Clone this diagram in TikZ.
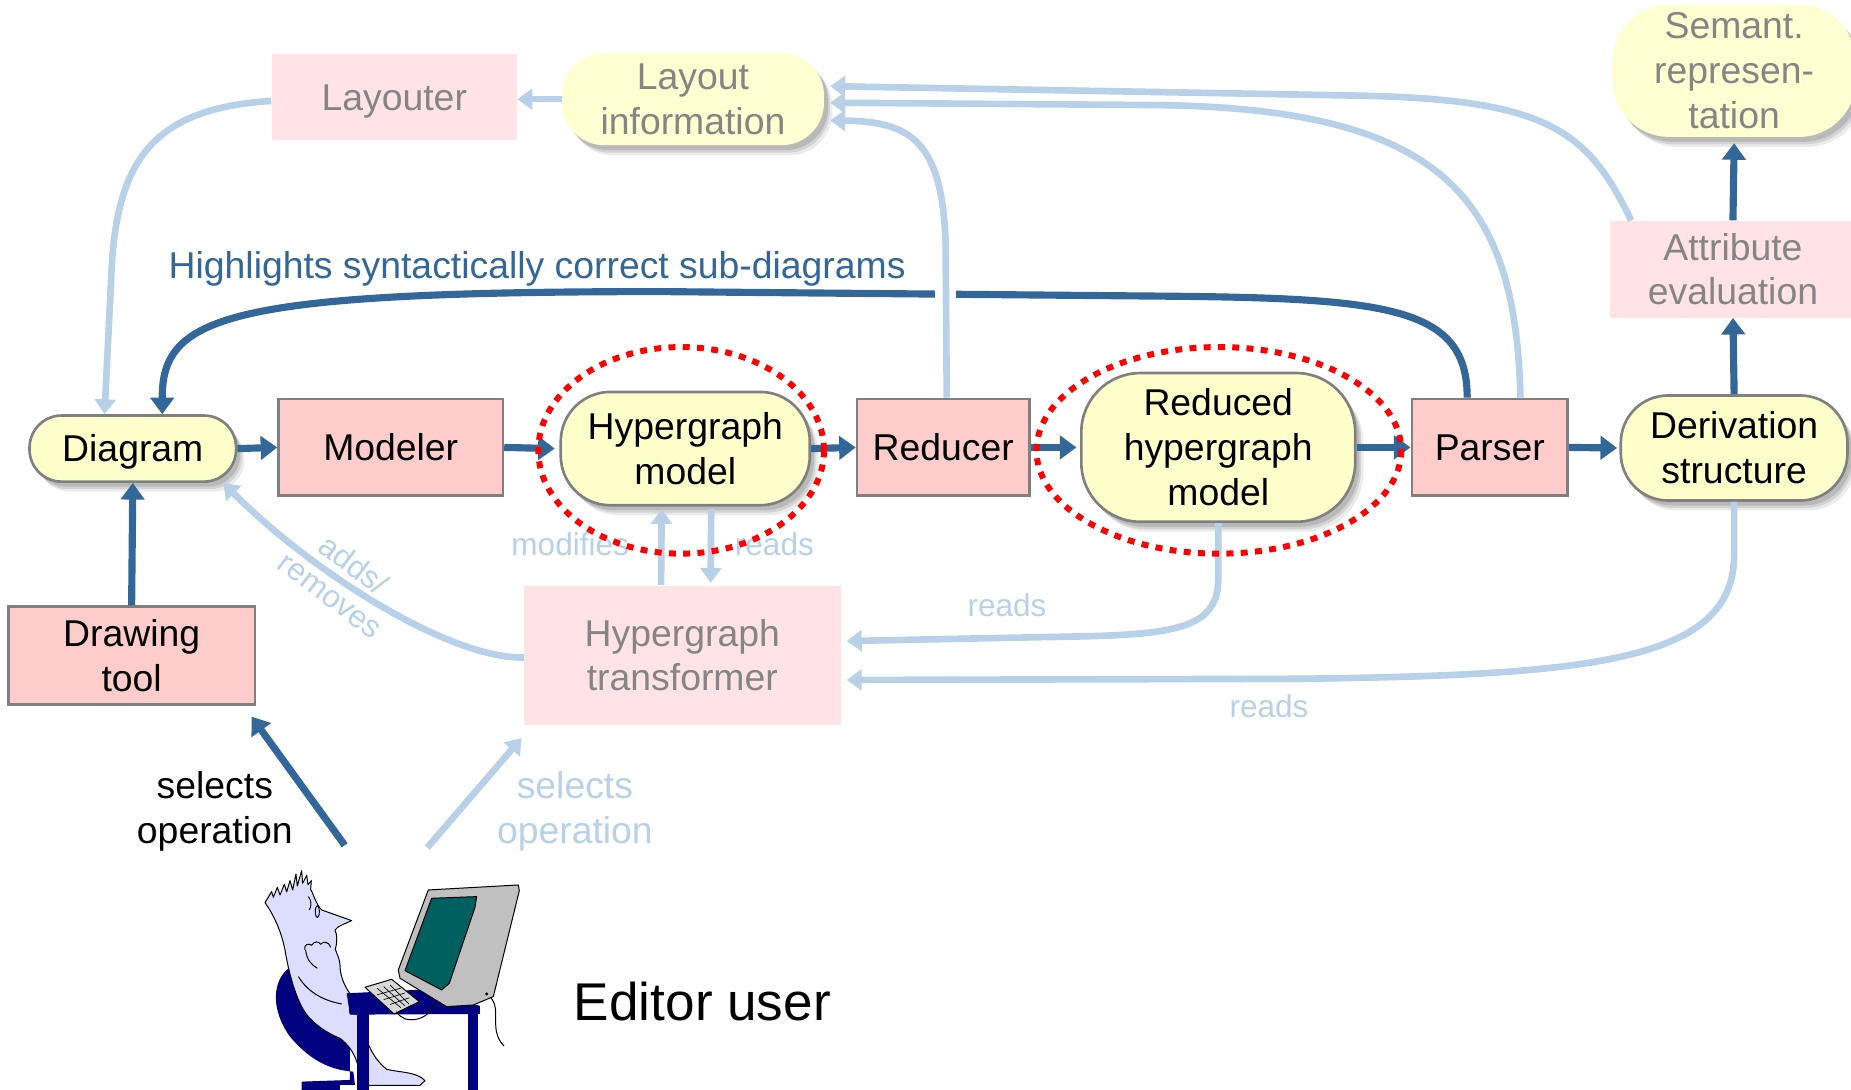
\documentclass[tikz,border=0pt]{standalone}
\usepackage{fontspec}
\setmainfont{Liberation Sans}
\usetikzlibrary{arrows.meta,shadows,calc}

\definecolor{darkblue}{HTML}{336699}
\definecolor{lightblue}{HTML}{B8D0E8}
\definecolor{pillfill}{HTML}{FFFFCC}
\definecolor{pillfade}{HTML}{FFFFD2}
\definecolor{boxfill}{HTML}{FFCCCC}
\definecolor{boxfade}{HTML}{FFE3E6}
\definecolor{edgegrey}{HTML}{808080}
\definecolor{fadetext}{HTML}{858585}
\definecolor{navy}{HTML}{000080}
\definecolor{skin}{HTML}{DDDDFF}
\definecolor{screenteal}{HTML}{006060}
\definecolor{casegrey}{HTML}{C0C0C0}
\definecolor{keygrey}{HTML}{D8D8D8}

\begin{document}
\begin{tikzpicture}[x=0.025cm, y=-0.025cm,
  lbl/.style={font=\fontsize{22.5}{27}\selectfont, align=center},
  oneline/.style={text height=20.4pt, text depth=4.8pt},
  sz/.style 2 args={minimum width=#1*0.025cm, minimum height=#2*0.025cm},
  softshadow/.style={
    drop shadow={shadow xshift=2.5pt, shadow yshift=-3pt, opacity=0.12, fill=black},
    drop shadow={shadow xshift=3.5pt, shadow yshift=-4.5pt, opacity=0.10, fill=black},
    drop shadow={shadow xshift=5pt, shadow yshift=-6pt, opacity=0.08, fill=black}},
  pill/.style={lbl, draw=edgegrey, line width=1.6pt, fill=pillfill, inner sep=0pt,
    rounded corners=#1, softshadow},
  pillfaded/.style={lbl, fill=pillfade, text=fadetext, inner sep=0pt,
    rounded corners=#1, softshadow},
  box/.style={lbl, draw=edgegrey, line width=1.6pt, fill=boxfill, inner sep=0pt},
  boxfaded/.style={lbl, fill=boxfade, text=fadetext, inner sep=0pt},
  darkarrow/.style={draw=darkblue, line width=4.3pt, -{Triangle[length=10pt,width=14pt]}},
  lightarrow/.style={draw=lightblue, line width=4pt, -{Triangle[length=9pt,width=12.5pt]}},
  smalllbl/.style={font=\fontsize{19}{23}\selectfont, text=lightblue, align=center},
  reddots/.style={draw=red, line width=3.6pt, dash pattern=on 4.2pt off 4.4pt},
  art/.style={draw=black, line width=0.6pt, line join=round}
]
\useasboundingbox (0,0) rectangle (1568,923);

% ---------- nodes ----------
\node[boxfaded, oneline, sz={208}{73}] (layouter) at (334,82.5) {Layouter};
\node[pillfaded=0.9cm, sz={222}{78}] (layinfo) at (587,84) {Layout\\information};
\node[pillfaded=1.2cm, sz={206}{112}] (semant) at (1469,60) {Semant.\\represen-\\tation};
\node[boxfaded, sz={208}{82}] (attr) at (1468,228) {Attribute\\evaluation};

\node[pill=0.68cm, oneline, sz={175}{56}] (diagram) at (112.5,380) {Diagram};
\node[box, oneline, sz={190}{82}] (modeler) at (331,379) {Modeler};
\node[pill=1.05cm, sz={211}{96}] (hgm) at (580.5,380) {Hypergraph\\model};
\node[box, oneline, sz={146}{82}] (reducer) at (799,379) {Reducer};
\node[pill=1.25cm, sz={232}{126}] (reduced) at (1032,379) {Reduced\\hypergraph\\model};
\node[box, oneline, sz={132}{82}] (parser) at (1262,379) {Parser};
\node[pill=1.0cm, sz={192}{89}] (deriv) at (1469,379.5) {Derivation\\structure};

\node[box, sz={209}{83}] (drawtool) at (111.5,555.5) {Drawing\\tool};
\node[boxfaded, sz={268}{118}] (transf) at (578,555) {Hypergraph\\transformer};

% ---------- main pipeline ----------
\draw[darkarrow] (diagram.east) -- (modeler.west);
\draw[darkarrow] (modeler.east) -- ($(hgm.west)+(-4,0)$);
\draw[darkarrow] (hgm.east) -- (reducer.west);
\draw[darkarrow] (reducer.east) -- ($(reduced.west)+(-3,0)$);
\draw[darkarrow] (reduced.east) -- (parser.west);
\draw[darkarrow] (parser.east) -- ($(deriv.west)+(-2,0)$);
\draw[darkarrow] (deriv.north) -- (attr.south);
\draw[darkarrow] (attr.north) -- ($(semant.south)+(0,5)$);
\draw[darkarrow] (drawtool.north) -- (diagram.south);

% feedback from the parser to the diagram
\draw[darkblue, line width=4.3pt, -{Triangle[length=10pt,width=14pt]}]
  ($(parser.north west)+(48,0)$) .. controls (1243,262) and (1180,253) .. (1000,251)
  -- (560,247) .. controls (190,247) and (137,268) .. ($(diagram.north)+(25,0)$);
\node[lbl, text=darkblue] (hltext) at (455,228) {Highlights syntactically correct sub-diagrams};

% layout branch
\draw[lightarrow] (layinfo.west) -- (layinfo.west -| layouter.east);
\draw[lightarrow] ($(layouter.west)+(0,3)$) .. controls (125,92) and (97,140) .. (94,240)
  -- ($(diagram.north)+(-24,0)$);
\draw[white, line width=0.45cm] (801,238) -- (801,258);
\draw[lightarrow] ($(reducer.north)+(3,0)$) -- (801,205) .. controls (798,118) and (770,103)
  .. ($(layinfo.east)+(5,18)$);
\draw[lightarrow] ($(parser.north)+(26,0)$) .. controls (1284,170) and (1225,92) .. (980,89)
  -- ($(layinfo.east)+(5,3)$);
\draw[lightarrow] ($(attr.north west)+(18,0)$) .. controls (1345,110) and (1310,84) .. (1150,81)
  -- ($(layinfo.east)+(5,-11)$);

% hypergraph transformer links
\draw[lightarrow] ($(transf.north)+(-18,0)$) -- ($(hgm.south)+(-20,2)$);
\draw[lightarrow] ($(hgm.south)+(22,2)$) -- ($(transf.north)+(24,-2)$);
\node[smalllbl] (lmod) at (483,461) {modifies};
\node[smalllbl] (lrd1) at (656,461) {reads};

\draw[lightarrow] (reduced.south) -- (1032,490) .. controls (1032,530) and (1000,537) .. (920,539)
  -- ($(transf.east)+(5,-12)$);
\node[smalllbl] (lrd2) at (853,513) {reads};

\draw[lightarrow] (deriv.south) -- (1469,470) .. controls (1469,560) and (1350,572) .. (1100,575)
  -- ($(transf.east)+(5,21)$);
\node[smalllbl] (lrd3) at (1075,598) {reads};

\draw[lightarrow] ($(transf.west)+(0,2)$) .. controls (380,558) and (265,485)
  .. ($(diagram.south east)+(-12,0)$);
\node[smalllbl, rotate=-37] (ladd) at (290,491) {adds/\\removes};

% the user
\coordinate (userhand) at (292,716);
\coordinate (userscreen) at (362,718);
\draw[darkarrow] (userhand) -- ($(drawtool.south east)+(-4,9)$);
\draw[lightarrow] (userscreen) -- ($(transf.south west)+(-2,11)$);
\node[lbl] (sel1) at (182,687) {selects\\operation};
\node[lbl, text=lightblue] (sel2) at (487,687) {selects\\operation};
\node[font=\fontsize{32}{38}\selectfont] (editor) at (595,848) {Editor user};

% ---------- the user at the computer ----------
\begin{scope}[shift={(203.3,720)}, scale=0.28236]
  % chair
  \fill[navy] (150,352) .. controls (95,390) and (92,480) .. (150,560)
    .. controls (200,620) and (260,660) .. (340,665) -- (345,705) -- (300,705)
    -- (300,722) -- (185,722) -- (185,695) -- (330,690) -- (330,560) -- (200,420) -- cycle;
  % person
  \filldraw[art, fill=skin]
    (75,158) -- (95,125) -- (100,142) -- (112,112) -- (120,135) -- (133,103) -- (140,126)
    -- (150,92) -- (158,120) -- (168,72) -- (172,108) -- (185,62) -- (188,100) -- (200,76)
    -- (204,104) -- (214,92) -- (212,118)
    .. controls (222,135) and (226,160) .. (245,180)
    -- (335,212) .. controls (315,222) and (295,226) .. (285,240)
    .. controls (292,255) and (292,275) .. (286,298)
    .. controls (292,315) and (300,330) .. (300,345)
    .. controls (300,380) and (315,410) .. (328,428)
    -- (330,490) -- (362,495) .. controls (372,560) and (392,620) .. (440,658)
    .. controls (480,668) and (530,665) .. (555,692) -- (540,706) -- (380,706) -- (362,690)
    .. controls (355,640) and (345,600) .. (300,565)
    .. controls (250,545) and (205,510) .. (185,470)
    .. controls (160,420) and (145,360) .. (135,300)
    .. controls (125,250) and (105,200) .. (75,158) -- cycle;
  % face and hand details
  \draw[art] (232,185) ellipse [x radius=6, y radius=18];
  \draw[art] (205,140) .. controls (215,150) and (215,170) .. (208,180);
  \draw[art] (195,300) .. controls (190,285) and (205,278) .. (215,286)
    .. controls (222,272) and (238,274) .. (242,283)
    .. controls (250,272) and (268,276) .. (272,292);
  \draw[art] (197,300) .. controls (200,330) and (215,345) .. (232,355);
  \draw[art] (175,380) .. controls (200,420) and (240,450) .. (305,462);
  % desk
  \fill[navy] (320,430) -- (565,418) -- (720,468) -- (720,492) -- (330,494) -- cycle;
  \fill[navy] (350,490) rectangle (386,722);
  \fill[navy] (683,480) rectangle (713,722);
  % keyboard
  \filldraw[art, fill=keygrey] (375,412) -- (455,388) -- (538,455) -- (462,492) -- cycle;
  \foreach \t in {0.25,0.5,0.75}
    \draw[art, line width=0.4pt] ($(392,420)!\t!(470,400)$) -- ($(470,478)!\t!(520,458)$);
  \foreach \t in {0.25,0.5,0.75}
    \draw[art, line width=0.4pt] ($(392,420)!\t!(470,478)$) -- ($(470,400)!\t!(520,458)$);
  % cables
  \draw[art] (470,485) .. controls (490,525) and (565,515) .. (582,462);
  \draw[art] (740,432) .. controls (795,470) and (740,535) .. (792,588);
  % monitor
  \filldraw[art, fill=casegrey] (565,120) -- (835,105) -- (838,122) -- (760,440) -- (700,465)
    -- (620,470) -- (480,385) -- (475,360) -- cycle;
  \filldraw[art, fill=screenteal] (575,145) -- (710,140) -- (705,172) -- (628,400)
    -- (605,420) -- (495,362) -- cycle;
  \fill[black] (740,432) circle [radius=5];
\end{scope}

% ---------- highlighted models ----------
\coordinate (ringA) at (577,381.5);
\coordinate (ringB) at (1032.5,381.5);
\draw[reddots] (ringA) ellipse [x radius=121, y radius=87.5];
\draw[reddots] (ringB) ellipse [x radius=154.5, y radius=87.5];
\end{tikzpicture}
\end{document}
